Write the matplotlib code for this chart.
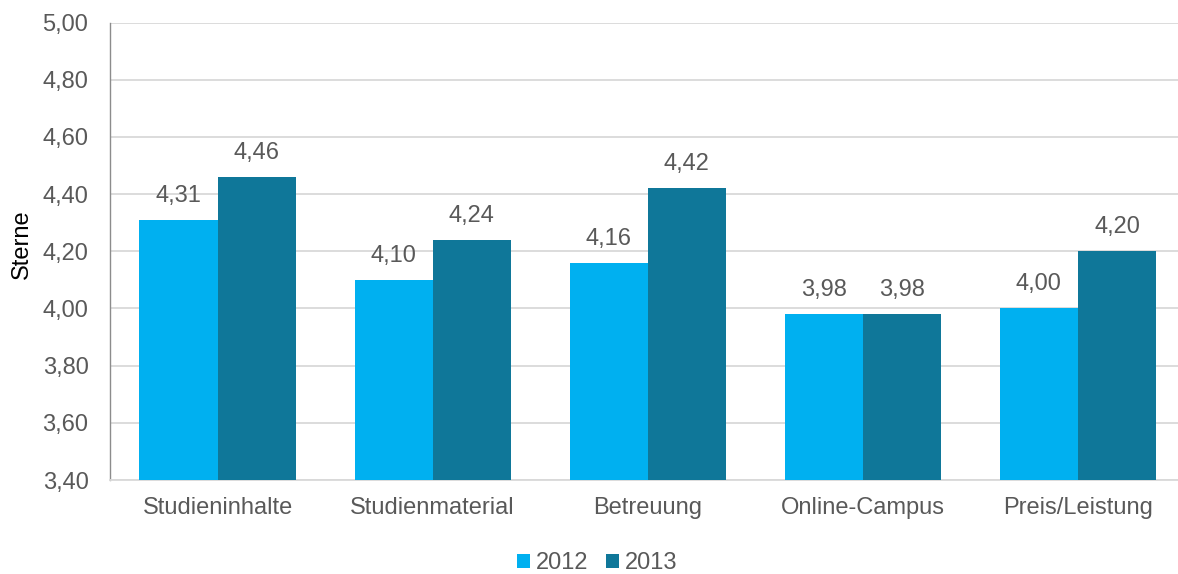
import matplotlib
matplotlib.use("Agg")
import matplotlib.pyplot as plt
import numpy as np

categories = ["Studieninhalte", "Studienmaterial", "Betreuung", "Online-Campus", "Preis/Leistung"]
values_2012 = [4.31, 4.10, 4.16, 3.98, 4.00]
values_2013 = [4.46, 4.24, 4.42, 3.98, 4.20]
series_labels = ["2012", "2013"]
yticks = [3.40, 3.60, 3.80, 4.00, 4.20, 4.40, 4.60, 4.80, 5.00]

plt.rcParams['font.family'] = ['Liberation Sans', 'DejaVu Sans']
W, H = 1178, 574
AXW = 1185.5 - 110
fig = plt.figure(figsize=(W / 100, H / 100), dpi=100)
ax = fig.add_axes([110 / W, 1 - 480 / H, AXW / W, (480 - 22.5) / H])

c1, c2 = "#00B0F0", "#0F7799"
txt = "#595959"
fs = 17
x = np.arange(len(categories))
w = 0.363
b1 = ax.bar(x - w / 2, [v - 3.4 for v in values_2012], w, bottom=3.4, color=c1, label=series_labels[0], zorder=3)
b2 = ax.bar(x + w / 2, [v - 3.4 for v in values_2013], w, bottom=3.4, color=c2, label=series_labels[1], zorder=3)

def fmt(v):
    return f"{v:.2f}".replace(".", ",")

for xs, vals in ((x - w / 2, values_2012), (x + w / 2, values_2013)):
    for xi, v in zip(xs, vals):
        ax.annotate(fmt(v), (xi, v), xytext=(0, 13), textcoords="offset points",
                    ha="center", va="baseline", fontsize=fs, color=txt)

ax.set_xlim(-0.5, len(categories) - 0.5)
ax.set_ylim(3.4, 5.0)
ax.set_yticks(yticks)
ax.set_yticklabels([fmt(t) for t in yticks])
ax.set_xticks(x)
ax.set_xticklabels(categories)
ax.tick_params(axis="both", length=0, labelsize=fs, labelcolor=txt)
ax.tick_params(axis="y", pad=15.5)
ax.tick_params(axis="x", pad=12)
ax.yaxis.grid(True, color="#d9d9d9", linewidth=1.3, zorder=0)
ax.set_axisbelow(True)
for s in ("top", "right"):
    ax.spines[s].set_visible(False)
ax.spines["left"].set_color("#8c8c8c")
ax.spines["left"].set_linewidth(1.0)
ax.spines["bottom"].set_color("#d9d9d9")
ax.spines["bottom"].set_linewidth(1.3)
ax.set_ylabel("Sterne", fontsize=fs, color="black")
ax.yaxis.set_label_coords(-77 / AXW, 0.515)

fig.legend(handles=[b1, b2], labels=series_labels, loc="center", bbox_to_anchor=(597.5 / W, 1 - 563 / H),
           ncol=2, frameon=False, fontsize=fs, labelcolor=txt, handlelength=0.55, handleheight=0.55,
           handletextpad=0.25, columnspacing=0.76)

fig.savefig("out.png", dpi=100)
